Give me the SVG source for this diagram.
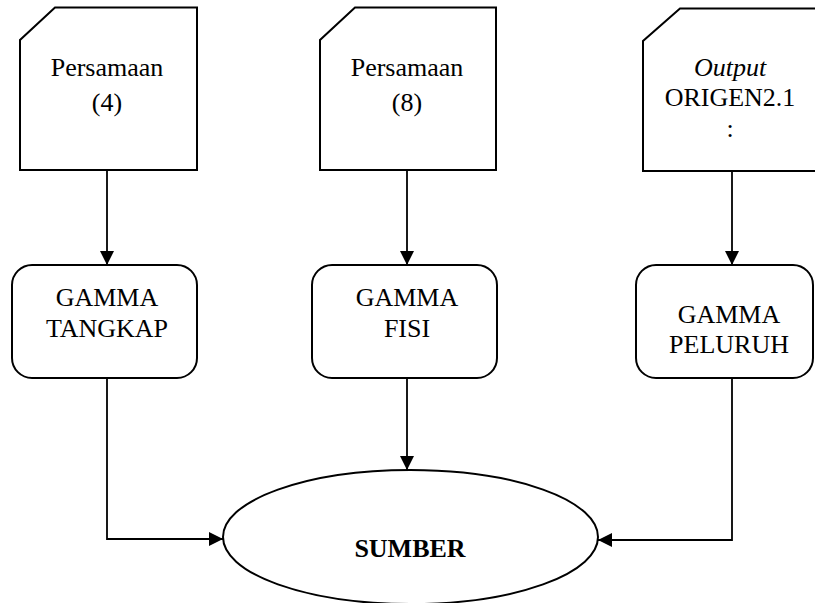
<svg xmlns="http://www.w3.org/2000/svg" width="815" height="603" viewBox="0 0 815 603">
<style>
.shape{fill:#fff;stroke:#000;stroke-width:2}
.t{font-family:"Liberation Serif","Times New Roman",serif;font-size:26px;fill:#000;text-anchor:middle}
.b{font-weight:bold}
.i{font-style:italic}
.c{fill:none;stroke:#000;stroke-width:1.8}
</style>
<defs>
<marker id="ah" markerWidth="14" markerHeight="14" refX="14" refY="7" orient="auto" markerUnits="userSpaceOnUse">
<path d="M0,0 L14,7 L0,14 Z" fill="#000"/>
</marker>
</defs>
<rect width="815" height="603" fill="#fff"/>
<g id="connectors">
<path class="c" d="M107,170 V265" marker-end="url(#ah)"/>
<path class="c" d="M407,170 V265" marker-end="url(#ah)"/>
<path class="c" d="M732,171 V265" marker-end="url(#ah)"/>
<path class="c" d="M107,378 V539 H223" marker-end="url(#ah)"/>
<path class="c" d="M407,378 V470" marker-end="url(#ah)"/>
<path class="c" d="M732,378 V540 H598" marker-end="url(#ah)"/>
</g>
<g id="persamaan4">
<path class="shape" d="M55,7.5 H197 V170 H20 V40 Z"/>
<text class="t" x="107" y="76">Persamaan</text>
<text class="t" x="107" y="111">(4)</text>
</g>
<g id="persamaan8">
<path class="shape" d="M355,7.5 H496 V170 H320 V40 Z"/>
<text class="t" x="407" y="76">Persamaan</text>
<text class="t" x="407" y="111">(8)</text>
</g>
<g id="output-origen">
<path class="shape" d="M680,8.5 H822 V171 H643 V41 Z"/>
<text class="t i" x="730" y="76">Output</text>
<text class="t" x="730" y="106">ORIGEN2.1</text>
<text class="t" x="730" y="137">:</text>
</g>
<g id="gamma-tangkap">
<rect class="shape" x="12" y="265" width="185" height="113" rx="20" ry="20"/>
<text class="t" x="107" y="306">GAMMA</text>
<text class="t" x="107" y="337">TANGKAP</text>
</g>
<g id="gamma-fisi">
<rect class="shape" x="312" y="265" width="185" height="113" rx="20" ry="20"/>
<text class="t" x="407" y="306">GAMMA</text>
<text class="t" x="407" y="337">FISI</text>
</g>
<g id="gamma-peluruh">
<rect class="shape" x="636" y="265" width="177" height="113" rx="20" ry="20"/>
<text class="t" x="729" y="323">GAMMA</text>
<text class="t" x="729" y="353">PELURUH</text>
</g>
<g id="sumber">
<ellipse class="shape" cx="410.5" cy="537" rx="187.5" ry="67"/>
<text class="t b" x="410" y="557">SUMBER</text>
</g>
</svg>
